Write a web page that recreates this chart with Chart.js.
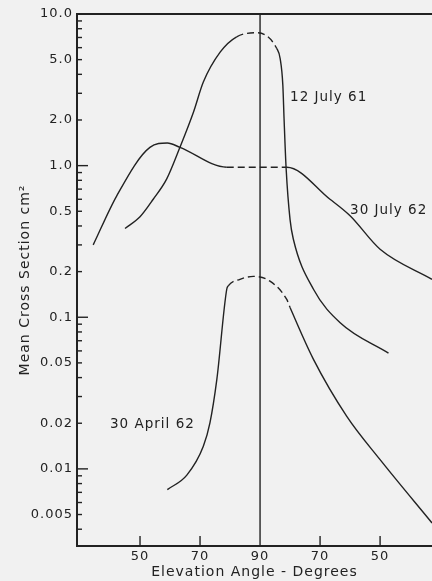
<!DOCTYPE html>
<html>
<head>
<meta charset="utf-8">
<script src="https://cdn.jsdelivr.net/npm/chart.js@4.4.0/dist/chart.umd.min.js"></script>
<style>
  html, body { margin: 0; padding: 0; background: #f1f1f1; }
  #wrap { width: 432px; height: 581px; }
</style>
</head>
<body>
<div id="wrap"><canvas id="graphe" width="432" height="581"></canvas></div>
<script>
// position on the x axis: left half = angle, right half = 180 - angle (so 70 on the right is 110)
var xTickPos    = [50, 70, 90, 110, 130];
var xTickLabels = ['50', '70', '90', '70', '50'];

var yTickValues = [0.005, 0.01, 0.02, 0.05, 0.1, 0.2, 0.5, 1, 2, 5, 10];
var yTickLabels = ['0.005', '0.01', '0.02', '0.05', '0.1', '0.2', '0.5', '1.0', '2.0', '5.0', '10.0'];

// 30 July 62
var july62Pos = [34.4, 42.2, 53.3, 59.1, 63.3, 78.9, 98.9, 113.3, 120, 130, 147.3];
var july62Val = [0.30, 0.63, 1.32, 1.41, 1.32, 0.976, 0.976, 0.60, 0.467, 0.281, 0.178];
var july62Dash = [78.9, 98.9];

// 12 July 61
var july61Pos = [45, 50, 54.4, 58.9, 63.3, 67.8, 71.1, 76.7, 82.2, 88.9, 95.6, 96.7, 97.6, 98, 98.7, 100, 101.1, 107.8, 116.7, 132.8];
var july61Val = [0.385, 0.46, 0.60, 0.817, 1.32, 2.25, 3.56, 5.6, 7.07, 7.52, 5.91, 5.08, 3.38, 2.04, 0.95, 0.44, 0.327, 0.153, 0.092, 0.058];
var july61Dash = [82.2, 95.6];

// 30 April 62
var april62Pos = [59.1, 65.6, 71.1, 73.3, 75.6, 78.9, 79.4, 83.3, 87.8, 93.3, 98.9, 100, 107.8, 118.9, 130, 147.3];
var april62Val = [0.0073, 0.0091, 0.0141, 0.0201, 0.0389, 0.153, 0.161, 0.178, 0.186, 0.173, 0.131, 0.116, 0.0527, 0.0222, 0.0115, 0.0044];
var april62Dash = [79.4, 100];

var encre = '#222';
var police = '"DejaVu Sans", sans-serif';

function serie(pos, val, dash) {
  return {
    data: pos.map(function (p, i) { return { x: p, y: val[i] }; }),
    borderColor: encre,
    borderWidth: 1.4,
    pointRadius: 0,
    fill: false,
    cubicInterpolationMode: 'monotone',
    segment: {
      borderDash: function (c) {
        return (c.p0.parsed.x >= dash[0] && c.p1.parsed.x <= dash[1]) ? [7, 4] : undefined;
      }
    }
  };
}

// fond, cadre du haut, ligne verticale a 90, graduations vers l'interieur, etiquettes
var cadre = {
  id: 'cadre',
  beforeDraw: function (chart) {
    var c = chart.ctx;
    c.save();
    c.fillStyle = '#f1f1f1';
    c.fillRect(0, 0, chart.width, chart.height);
    c.restore();
    c.letterSpacing = '1px'; // lettres espacees comme sur l'original
  },
  afterDatasetsDraw: function (chart) {
    var c = chart.ctx, a = chart.chartArea;
    var sx = chart.scales.x, sy = chart.scales.y;
    c.save();
    c.strokeStyle = encre;
    c.lineWidth = 2;
    c.beginPath();
    c.moveTo(a.left, a.top);
    c.lineTo(a.right, a.top);
    c.stroke();

    c.lineWidth = 1.4;
    var x90 = sx.getPixelForValue(90);
    c.beginPath();
    c.moveTo(x90, a.top);
    c.lineTo(x90, a.bottom);
    c.stroke();

    // x ticks
    xTickPos.forEach(function (p) {
      if (p === 90) return;
      var px = sx.getPixelForValue(p);
      c.beginPath();
      c.moveTo(px, a.bottom);
      c.lineTo(px, a.bottom - 10);
      c.stroke();
    });

    // y ticks (1..9 per decade)
    for (var d = 0.001; d <= 10; d *= 10) {
      for (var k = 1; k <= 9; k++) {
        var v = d * k;
        if (v < sy.min || v > sy.max * 1.0001) continue;
        var py = sy.getPixelForValue(v);
        var len = 5;
        if (k === 1 && (Math.abs(v - 1) < 1e-9 || Math.abs(v - 0.1) < 1e-9 || Math.abs(v - 0.01) < 1e-9)) len = 11;
        c.beginPath();
        c.moveTo(a.left, py);
        c.lineTo(a.left + len, py);
        c.stroke();
      }
    }

    c.fillStyle = encre;
    c.font = '13.5px ' + police;
    c.letterSpacing = '1px';
    c.textBaseline = 'middle';
    c.textAlign = 'left';
    c.fillText('12 July 61', sx.getPixelForValue(100), sy.getPixelForValue(2.8));
    c.fillText('30 July 62', sx.getPixelForValue(120), sy.getPixelForValue(0.509));
    c.fillText('30 April 62', sx.getPixelForValue(40), sy.getPixelForValue(0.0195));
    c.restore();
  }
};

new Chart(document.getElementById('graphe'), {
  type: 'line',
  data: {
    datasets: [
      serie(july62Pos, july62Val, july62Dash),
      serie(july61Pos, july61Val, july61Dash),
      serie(april62Pos, april62Val, april62Dash)
    ]
  },
  options: {
    responsive: false,
    animation: false,
    layout: { padding: { top: 14, right: 0, left: 0, bottom: 0 } },
    plugins: { legend: { display: false }, tooltip: { enabled: false } },
    scales: {
      x: {
        type: 'linear',
        min: 29,
        max: 147.3,
        afterFit: function (s) { s.height = 35; },
        afterBuildTicks: function (s) { s.ticks = xTickPos.map(function (p) { return { value: p }; }); },
        grid: { drawOnChartArea: false, drawTicks: false },
        border: { display: true, color: encre, width: 2 },
        ticks: {
          color: encre,
          padding: 3,
          font: { family: police, size: 13 },
          callback: function (v, i) { return xTickLabels[i]; }
        },
        title: {
          display: true,
          text: 'Elevation Angle - Degrees',
          color: encre,
          padding: 0,
          font: { family: police, size: 14 }
        }
      },
      y: {
        type: 'logarithmic',
        min: 0.0031,
        max: 10,
        afterFit: function (s) { s.width = 77; },
        afterBuildTicks: function (s) { s.ticks = yTickValues.map(function (v) { return { value: v }; }); },
        grid: { drawOnChartArea: false, drawTicks: false },
        border: { display: true, color: encre, width: 2 },
        ticks: {
          color: encre,
          padding: 4,
          font: { family: police, size: 13 },
          callback: function (v, i) { return yTickLabels[i]; }
        },
        title: {
          display: true,
          text: 'Mean Cross Section cm²',
          color: encre,
          padding: { top: 16.5, bottom: 0 },
          font: { family: police, size: 14 }
        }
      }
    }
  },
  plugins: [cadre]
});
</script>
</body>
</html>
